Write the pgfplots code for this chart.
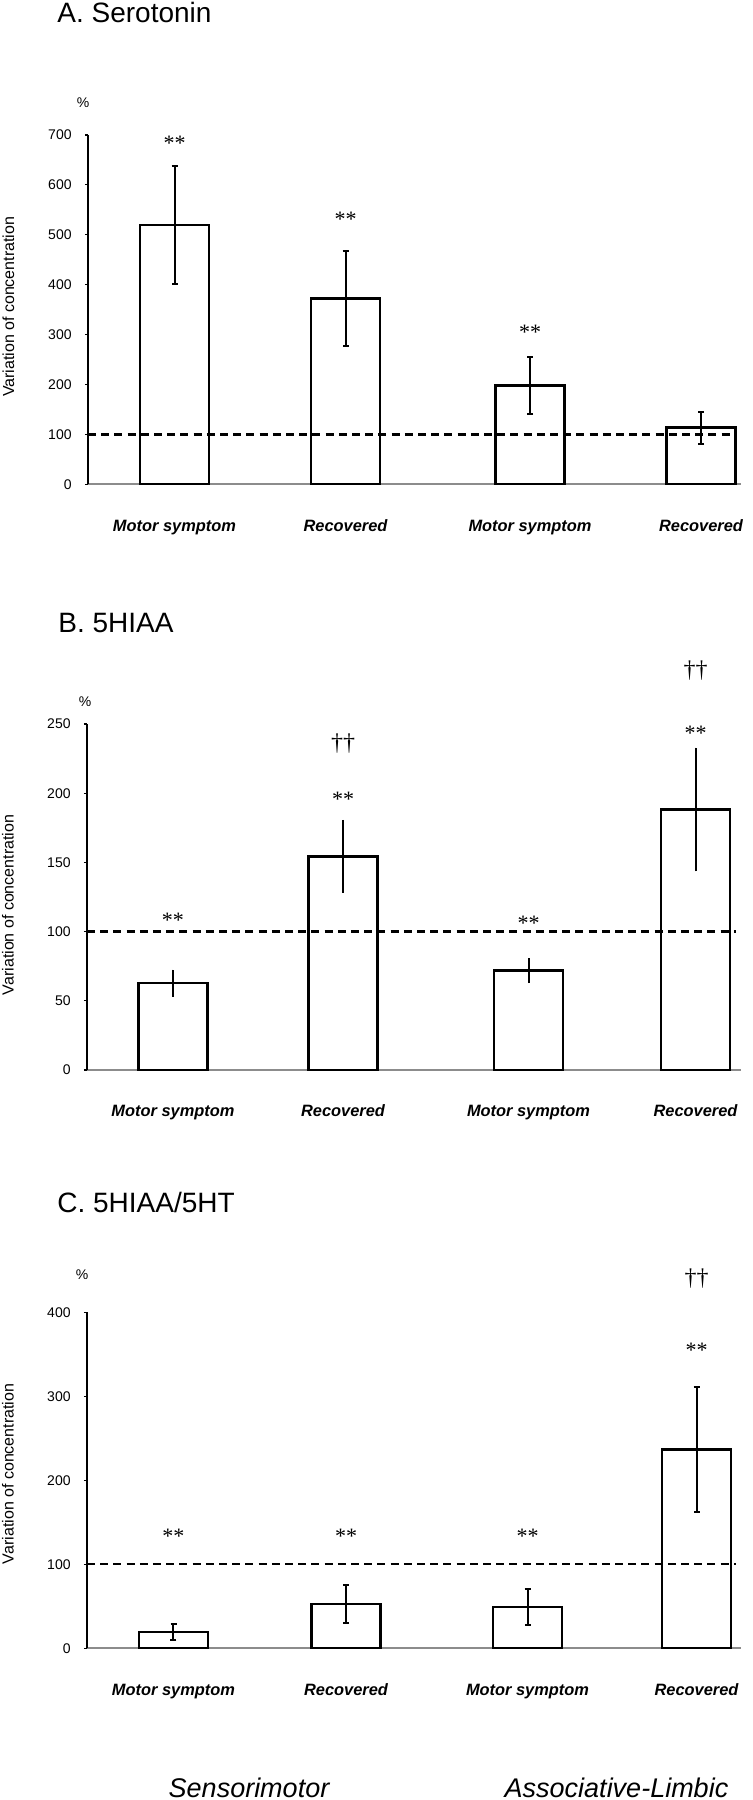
\documentclass[border=0pt]{standalone}
\usepackage{pgfplots}
\pgfplotsset{compat=1.18}
\usepackage{fontspec}
\setmainfont{Liberation Sans}
\newfontfamily\seriffont{Liberation Serif}

\pgfplotsset{
  panel/.style={
    scale only axis,
    axis lines=left, axis line style={-},
    x axis line style={draw=black!45, line width=1pt},
    y axis line style={draw=black, line width=1.1pt},
    ymin=0, xmax=741,
    xtick={#1},
    xticklabels={Motor symptom, Recovered, Motor symptom, Recovered},
    xtick style={draw=none},
    tick align=outside, major tick length=1.5pt,
    ytick style={black, line width=0.6pt},
    xticklabel style={font=\fontsize{8.2}{9}\selectfont\bfseries\itshape, anchor=base, yshift=-22pt, inner sep=0pt},
    yticklabel style={font=\fontsize{7}{8}\selectfont, anchor=east, inner sep=0pt, xshift=-6.5pt},
    /pgf/number format/assume math mode=true,
    clip=false,
    ylabel={Variation of concentration},
    ylabel style={font=\fontsize{8}{9}\selectfont, anchor=center},
  },
  bars/.style={ybar, bar width=69, fill=white, draw=black, line width=1.2pt,
    error bars/y dir=both, error bars/y explicit,
    error bars/error mark=|,
    error bars/error bar style={line width=1pt, black},
    error bars/error mark options={draw=black, line width=1pt, mark size=1.5pt}},
  refline/.style={black, line width=1.2pt, dash pattern=on 4pt off 2.6pt, forget plot},
}
\tikzset{
  sigstar/.style={font=\seriffont\fontsize{11}{12}\selectfont, anchor=base, yshift=-5.5pt, inner sep=0pt},
  sigdag/.style={font=\seriffont\fontsize{12}{13}\selectfont, anchor=base, yshift=-3.5pt, inner sep=0pt},
}

\begin{document}
\begin{tikzpicture}
\path[use as bounding box] (0,0) rectangle (376.5pt,900pt);

% ---------------- Panel A ----------------
\begin{axis}[panel={174.5,345.5,530,701},
  at={(44pt,657.85pt)}, anchor=south west,
  width=326.5pt, height=174.65pt,
  xmin=88, ymax=700, ytick={0,100,...,700},
  y axis line style={line width=1.3pt},
  ylabel style={at={(axis description cs:-0.1217,0.508)}}]
\addplot[bars] coordinates {
  (174.5,519.6) +- (0,118.2)
  (345.5,372.6) +- (0,94.8)
  (530,198.0) +- (0,56.7)
  (701,113.4) +- (0,31.8)
};
\addplot[refline] coordinates {(88,100) (736,100)};
\node[sigstar] at (axis cs:174.5,691) {**};
\node[sigstar] at (axis cs:345.5,539.6) {**};
\node[sigstar] at (axis cs:530,312.6) {**};
\end{axis}

% ---------------- Panel B ----------------
\begin{axis}[panel={173,343,528.5,695.5},
  at={(43.5pt,365pt)}, anchor=south west,
  width=327pt, height=173pt,
  xmin=87, ymax=250, ytick={0,50,...,250},
  y axis line style={line width=0.9pt},
  ylabel style={at={(axis description cs:-0.1208,0.477)}}]
\addplot[bars, error bars/error mark=none] coordinates {
  (173,62.8) +- (0,9.7)
  (343,154.4) +- (0,26.3)
  (528.5,71.8) +- (0,9.0)
  (695.5,188.2) +- (0,44.7)
};
\addplot[refline] coordinates {(87,100) (736,100)};
\node[sigstar] at (axis cs:173,110.8) {**};
\node[sigstar] at (axis cs:343,198) {**};
\node[sigstar] at (axis cs:528.5,108.4) {**};
\node[sigstar] at (axis cs:695.5,245.7) {**};
\node[sigdag] at (axis cs:343,236) {††};
\node[sigdag] at (axis cs:695.5,289) {††};
\end{axis}

% ---------------- Panel C ----------------
\begin{axis}[panel={173.5,346,527.5,696.5},
  at={(43.5pt,75.85pt)}, anchor=south west,
  width=327pt, height=168pt,
  xmin=87, ymax=400, ytick={0,100,...,400},
  y axis line style={line width=0.9pt},
  ylabel style={at={(axis description cs:-0.1208,0.519)}}]
\addplot[bars] coordinates {
  (173.5,19.3) +- (0,9.3)
  (346,52.5) +- (0,22.9)
  (527.5,49.4) +- (0,21.6)
  (696.5,236.5) +- (0,74.3)
};
\addplot[refline] coordinates {(87,100) (736,100)};
\node[sigstar] at (axis cs:173.5,138) {**};
\node[sigstar] at (axis cs:346,138) {**};
\node[sigstar] at (axis cs:527.5,138) {**};
\node[sigstar] at (axis cs:696.5,359) {**};
\node[sigdag] at (axis cs:696.5,440) {††};
\end{axis}

% ---------------- Titles and labels ----------------
\node[anchor=base west, inner sep=0pt, font=\fontsize{14}{16}\selectfont] at (28.5pt,888.5pt) {A. Serotonin};
\node[anchor=base west, inner sep=0pt, font=\fontsize{14}{16}\selectfont] at (29pt,583.5pt) {B. 5HIAA};
\node[anchor=base west, inner sep=0pt, font=\fontsize{14}{16}\selectfont] at (28.5pt,293.5pt) {C. 5HIAA/5HT};

\node[inner sep=0pt, font=\fontsize{7}{8}\selectfont] at (41.5pt,848.5pt) {\%};
\node[inner sep=0pt, font=\fontsize{7}{8}\selectfont] at (42.5pt,549.2pt) {\%};
\node[inner sep=0pt, font=\fontsize{7}{8}\selectfont] at (41pt,262.5pt) {\%};

\node[anchor=base, inner sep=0pt, font=\fontsize{13.5}{15}\selectfont\itshape] at (124.5pt,1.5pt) {Sensorimotor};
\node[anchor=base, inner sep=0pt, font=\fontsize{13.5}{15}\selectfont\itshape] at (308.25pt,1.5pt) {Associative-Limbic};
\end{tikzpicture}
\end{document}
